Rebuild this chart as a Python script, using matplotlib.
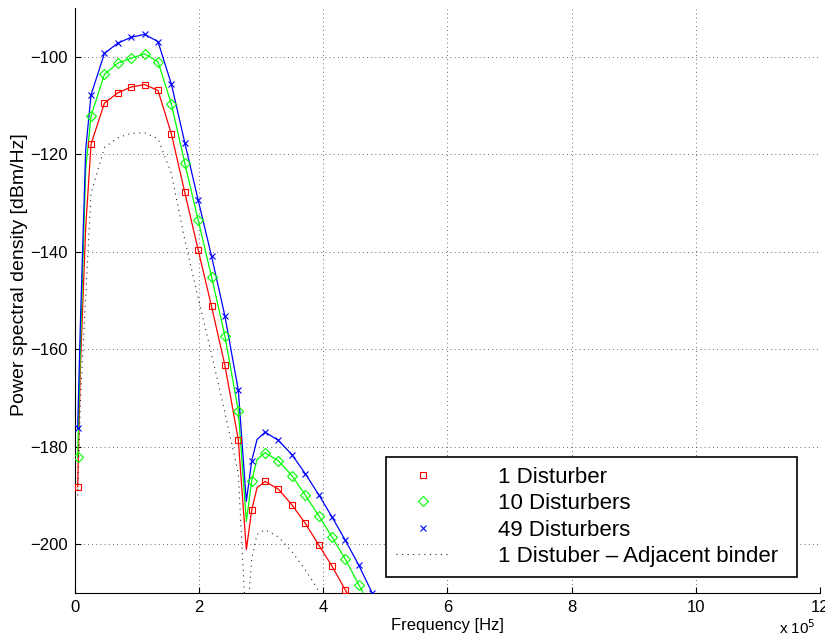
import matplotlib
matplotlib.use("Agg")
import matplotlib.pyplot as plt
import numpy as np

plt.rcParams["font.family"] = ["Liberation Sans", "DejaVu Sans"]

# ADSL tone indices where the curves were read (tone spacing 4.3125 kHz)
tones = [1, 2, 4, 6, 11, 16, 21, 26, 31, 36, 41, 46, 51, 56, 61, 64, 66, 68,
         71, 76, 81, 86, 91, 96, 101, 106, 111]
tone_spacing_hz = 4312.5

# PSD values in dBm/Hz
psd_1 = [-188.2, -164, -135, -117.9, -109.5, -107.4, -106.2, -105.7, -106.9,
         -115.8, -127.8, -139.6, -151.2, -163.3, -178.6, -201.1, -193.0, -188.4,
         -187.1, -188.7, -191.9, -195.7, -200.1, -204.5, -209.4, -214.5, -219.8]
psd_10 = [-182.2, -160, -123, -112.1, -103.6, -101.3, -100.3, -99.4, -101.0,
          -109.7, -121.8, -133.5, -145.1, -157.3, -172.6, -195.3, -187.0, -182.6,
          -181.2, -182.9, -185.9, -189.9, -194.1, -198.5, -203.1, -208.3, -213.5]
psd_49 = [-176.2, -155, -119, -107.8, -99.3, -97.2, -96.0, -95.4, -96.9,
          -105.6, -117.6, -129.4, -140.9, -153.2, -168.4, -191.2, -182.9, -178.5,
          -177.0, -178.7, -181.6, -185.5, -189.8, -194.4, -199.2, -204.3, -210.0]
psd_adj = [-190, -171, -149, -128, -118.6, -116.6, -115.7, -115.6, -116.8,
           -124, -137.5, -149.5, -161, -173, -185.5, -218, -203, -198,
           -197, -198.5, -201.5, -205.2, -209.5, -214, -219, -224, -229]

labels = ["1 Disturber", "10 Disturbers", "49 Disturbers",
          "1 Distuber \u2013 Adjacent binder"]

f = np.array(tones) * tone_spacing_hz / 1e5
marker_idx = [i for i, t in enumerate(tones) if (t - 1) % 5 == 0]

fig = plt.figure(figsize=(8.25, 6.42), dpi=100)
ax = fig.add_axes([0.0909, 0.0763, 0.9030, 0.9112])

series = [(psd_1, "r", "s", 4.5), (psd_10, "#00ff00", "D", 5.2), (psd_49, "b", "x", 4.8)]
for (vals, col, mk, ms), lab in zip(series, labels):
    ax.plot(f, vals, color=col, lw=0.9, zorder=3)
    ax.plot(f[marker_idx], np.array(vals)[marker_idx], linestyle="none",
            marker=mk, ms=ms, mfc="none", mec=col, mew=0.8, label=lab, zorder=4)
ax.plot(f, psd_adj, color="0.15", lw=0.8, linestyle=(0, (1, 4)), label=labels[3], zorder=3)

ax.set_xlim(0, 12)
ax.set_ylim(-210, -90)
ax.set_xticks(range(0, 13, 2))
ax.set_yticks(range(-200, -99, 20))
ax.grid(True, color="0.2", lw=0.6, linestyle=(0, (1, 4)))
for s in ["top", "right"]:
    ax.spines[s].set_visible(False)
ax.tick_params(direction="in", length=4, labelsize=12, pad=5)

ax.set_xlabel("Frequency [Hz]", fontsize=12, labelpad=2)
ax.set_ylabel("Power spectral density [dBm/Hz]", fontsize=14, labelpad=4)
ax.yaxis.set_label_coords(-0.063, 0.545)
fig.text(0.944, 0.008, r"x 10$^5$", fontsize=11, ha="left", va="bottom")

leg = ax.legend(loc="lower left", bbox_to_anchor=(0.417, 0.027, 0.552, 0.221),
                mode="expand", borderaxespad=0, fontsize=16, numpoints=1,
                handlelength=2.5, handletextpad=2.1, labelspacing=0.25,
                borderpad=0.45, fancybox=False, framealpha=1, edgecolor="black")
leg.get_frame().set_linewidth(1.2)

fig.savefig("out.png", dpi=100)
